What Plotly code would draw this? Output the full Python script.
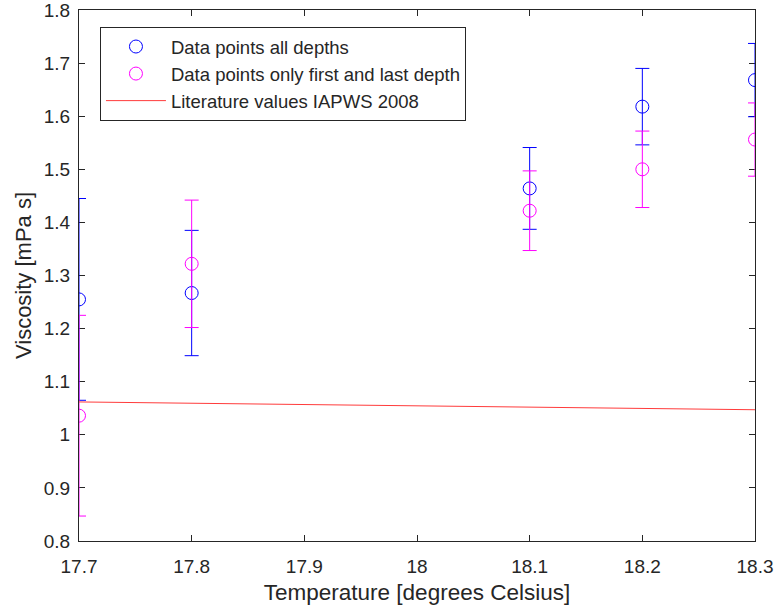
import plotly.graph_objects as go

temps = [17.7, 17.8, 18.1, 18.2, 18.3]
visc_all = [1.255, 1.267, 1.464, 1.618, 1.668]
err_all = [0.19, 0.118, 0.077, 0.072, 0.069]
visc_fl = [1.036, 1.322, 1.422, 1.500, 1.556]
err_fl = [0.189, 0.12, 0.075, 0.072, 0.069]
lit_t = [17.7, 17.8, 17.9, 18.0, 18.1, 18.2, 18.3]
lit_v = [1.0619, 1.0594, 1.0569, 1.0545, 1.0520, 1.0496, 1.0472]

fig = go.Figure()
fig.add_trace(go.Scatter(
    x=temps, y=visc_all, mode="markers", name="Data points all depths", cliponaxis=True,
    marker=dict(symbol="circle-open", size=13, color="#0000ff", line=dict(width=1)),
    error_y=dict(type="data", array=err_all, visible=True, color="#0000ff", thickness=1, width=7),
))
fig.add_trace(go.Scatter(
    x=temps, y=visc_fl, mode="markers", name="Data points only first and last depth", cliponaxis=True,
    marker=dict(symbol="circle-open", size=13, color="#ff00ff", line=dict(width=1)),
    error_y=dict(type="data", array=err_fl, visible=True, color="#ff00ff", thickness=1, width=7),
))
fig.add_trace(go.Scatter(
    x=lit_t, y=lit_v, mode="lines", name="Literature values IAPWS 2008",
    line=dict(color="#ff3b3b", width=1),
))

axis_common = dict(
    showgrid=False, zeroline=False, showline=True, linecolor="#262626", linewidth=1,
    mirror="ticks", ticks="inside", ticklen=6, tickcolor="#262626", layer="below traces",
    automargin=False, ticklabeloverflow="allow",
    tickfont=dict(family="Liberation Sans, Arial", size=19, color="#262626"),
)
fig.update_layout(
    width=778, height=615,
    margin=dict(l=79, r=23, t=10, b=74),
    paper_bgcolor="white", plot_bgcolor="white",
    font=dict(family="Liberation Sans, Arial", color="#262626"),
    xaxis=dict(range=[17.7, 18.3], tickvals=[17.7, 17.8, 17.9, 18.0, 18.1, 18.2, 18.3],
               ticktext=["17.7", "17.8", "17.9", "18", "18.1", "18.2", "18.3"],
               ticklabelstandoff=8,
               title=dict(text="Temperature [degrees Celsius]", font=dict(size=22.5), standoff=8),
               **axis_common),
    yaxis=dict(range=[0.8, 1.8], tickvals=[0.8, 0.9, 1.0, 1.1, 1.2, 1.3, 1.4, 1.5, 1.6, 1.7, 1.8],
               ticktext=["0.8", "0.9", "1", "1.1", "1.2", "1.3", "1.4", "1.5", "1.6", "1.7", "1.8"],
               ticklabelstandoff=4,
               title=dict(text="Viscosity [mPa s]", font=dict(size=22), standoff=6),
               **axis_common),
    legend=dict(x=0.031, y=0.968, xanchor="left", yanchor="top",
                bgcolor="white", bordercolor="#262626", borderwidth=1,
                font=dict(size=18.5, color="#262626"), itemwidth=60, tracegroupgap=0),
    showlegend=True,
)
fig.write_html("out.html")
